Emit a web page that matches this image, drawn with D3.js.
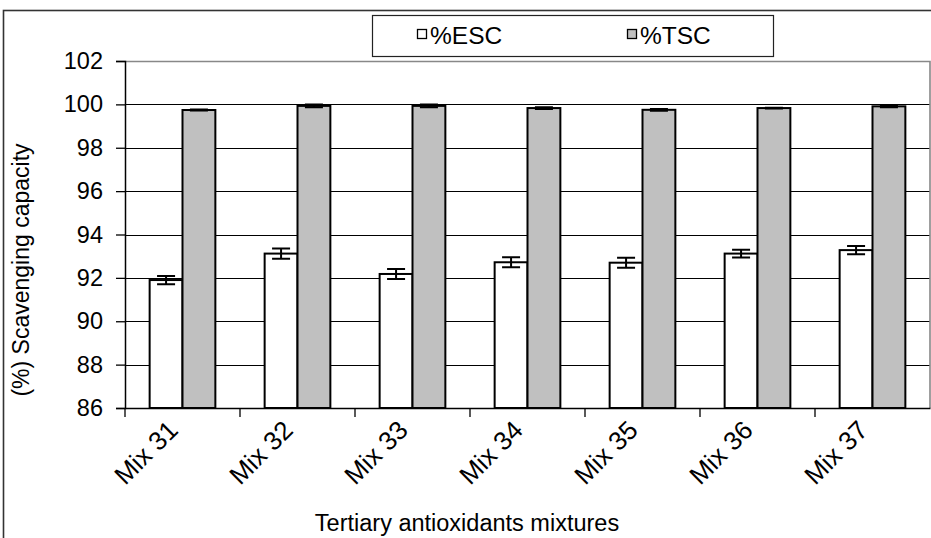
<!DOCTYPE html>
<html>
<head>
<meta charset="utf-8">
<script src="https://cdn.jsdelivr.net/npm/d3@7"></script>
<style>
  html, body { margin: 0; padding: 0; background: #fff; }
  svg { display: block; font-family: "Liberation Sans", Arial, sans-serif; }
</style>
</head>
<body>
<svg id="chart" width="931" height="538"></svg>
<script>
// ---- data ----
const categories = ["Mix 31", "Mix 32", "Mix 33", "Mix 34", "Mix 35", "Mix 36", "Mix 37"];
const seriesNames = ["%ESC", "%TSC"];
const escValues = [91.90, 93.12, 92.18, 92.72, 92.70, 93.12, 93.28];
const escErrors = [0.19, 0.24, 0.23, 0.23, 0.23, 0.18, 0.19];
const tscValues = [99.74, 99.93, 99.93, 99.83, 99.75, 99.83, 99.91];
const tscErrors = [0.02, 0.06, 0.06, 0.04, 0.04, 0.02, 0.04];
const yTicks = [86, 88, 90, 92, 94, 96, 98, 100, 102];
const xTitle = "Tertiary antioxidants mixtures";
const yTitle = "(%) Scavenging capacity";

(function () {
const svg = d3.select("#chart");
const pLeft = 125, pRight = 930, pTop = 61, pBottom = 408;

// outer border (chart area)
svg.append("rect").attr("x", 3.5).attr("y", 10.5).attr("width", 1200).attr("height", 1200)
  .attr("fill", "none").attr("stroke", "#333").attr("stroke-width", 1.6);

const y = d3.scaleLinear().domain([86, 102]).range([pBottom, pTop]);
const x0 = d3.scaleBand().domain(categories).range([pLeft, pRight]).padding(0);
const x1 = d3.scaleBand().domain(seriesNames).range([0, x0.bandwidth()]).paddingInner(0).paddingOuter(0.75);

// gridlines
svg.append("g").selectAll("line").data(yTicks.filter(t => t > 86)).join("line")
  .attr("x1", pLeft).attr("x2", pRight)
  .attr("y1", d => Math.round(y(d)) + 0.5).attr("y2", d => Math.round(y(d)) + 0.5)
  .attr("stroke", "#000").attr("stroke-width", 1.2);

// plot area border top/right
svg.append("path")
  .attr("d", `M${pLeft},${Math.round(pTop)+0.5}H${pRight}V${pBottom}`)
  .attr("fill", "none").attr("stroke", "#888").attr("stroke-width", 1.6);

const data = categories.map((c, i) => ({
  cat: c,
  vals: [
    { s: seriesNames[0], v: escValues[i], e: escErrors[i], fill: "#ffffff" },
    { s: seriesNames[1], v: tscValues[i], e: tscErrors[i], fill: "#c0c0c0" }
  ]
}));

const groups = svg.append("g").selectAll("g").data(data).join("g")
  .attr("transform", d => `translate(${x0(d.cat)},0)`);

groups.selectAll("rect").data(d => d.vals).join("rect")
  .attr("x", d => x1(d.s))
  .attr("y", d => y(d.v))
  .attr("width", x1.bandwidth())
  .attr("height", d => y(86) - y(d.v))
  .attr("fill", d => d.fill)
  .attr("stroke", "#000").attr("stroke-width", 2);

// error bars
const capW = 9;
groups.selectAll("path.err").data(d => d.vals).join("path")
  .attr("class", "err")
  .attr("d", d => {
    const cx = x1(d.s) + x1.bandwidth() / 2;
    const y1 = y(d.v + d.e), y2 = y(d.v - d.e);
    return `M${cx},${y1}V${y2}M${cx - capW},${y1}H${cx + capW}M${cx - capW},${y2}H${cx + capW}`;
  })
  .attr("fill", "none").attr("stroke", "#000").attr("stroke-width", 2);

// y axis
const yAxis = d3.axisLeft(y).tickValues(yTicks).tickSize(9).tickPadding(13).tickFormat(d3.format("d"));
const yg = svg.append("g").attr("transform", `translate(${pLeft},0)`).call(yAxis);
yg.select(".domain").attr("stroke", "#000").attr("stroke-width", 1.5);
yg.selectAll(".tick line").attr("stroke", "#000").attr("stroke-width", 1.3);
yg.selectAll(".tick text").attr("font-size", 23.5).attr("fill", "#000")
  .attr("font-family", "'Liberation Sans', Arial, sans-serif");

// x axis
const xAxis = d3.axisBottom(x0).tickSize(0).tickFormat("");
const xg = svg.append("g").attr("transform", `translate(0,${pBottom})`).call(xAxis);
xg.select(".domain").attr("stroke", "#000").attr("stroke-width", 1.5);
xg.selectAll(".tick").remove();
xg.selectAll("line.bt").data(categories).join("line").attr("class", "bt")
  .attr("x1", d => x0(d)).attr("x2", d => x0(d)).attr("y1", 0).attr("y2", 9)
  .attr("stroke", "#000").attr("stroke-width", 1.3);

// rotated category labels
svg.append("g").selectAll("text").data(categories).join("text")
  .attr("transform", d => `translate(${x0(d) + x0.bandwidth() / 2 - 16},${pBottom + 11}) rotate(-45)`)
  .attr("text-anchor", "end")
  .attr("dy", "0.7em")
  .attr("font-size", 26)
  .text(d => d);

// axis titles
svg.append("text").attr("x", 467).attr("y", 531).attr("text-anchor", "middle")
  .attr("font-size", 23.5).text(xTitle);
svg.append("text").attr("transform", `translate(29,270) rotate(-90)`).attr("text-anchor", "middle")
  .attr("font-size", 23).text(yTitle);

// legend
const lg = svg.append("g");
lg.append("rect").attr("x", 372.5).attr("y", 15.5).attr("width", 401).attr("height", 41)
  .attr("fill", "#fff").attr("stroke", "#222").attr("stroke-width", 1.2);
const legendItems = [
  { name: seriesNames[0], fill: "#ffffff", sx: 417 },
  { name: seriesNames[1], fill: "#c0c0c0", sx: 627 }
];
legendItems.forEach(it => {
  lg.append("rect").attr("x", it.sx + 0.5).attr("y", 29.5).attr("width", 9).attr("height", 9)
    .attr("fill", it.fill).attr("stroke", "#000").attr("stroke-width", 1.3);
  lg.append("text").attr("x", it.sx + 13).attr("y", 44).attr("font-size", 24.5).text(it.name);
});
})();
</script>
</body>
</html>
